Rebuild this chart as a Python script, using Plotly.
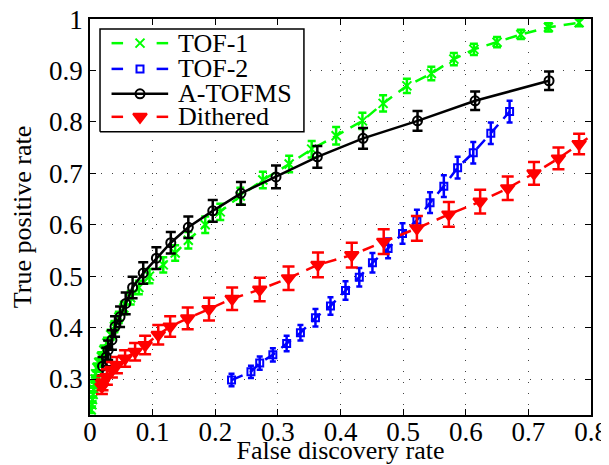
import plotly.graph_objects as go

# ---- data ----
tof1_x = [0.002, 0.003, 0.004, 0.005, 0.006, 0.007, 0.008, 0.009, 0.011, 0.014,
          0.018, 0.022, 0.027, 0.033, 0.039, 0.046, 0.054, 0.065, 0.078, 0.095,
          0.117, 0.136, 0.157, 0.184, 0.208, 0.240, 0.276, 0.318, 0.354, 0.393,
          0.435, 0.468, 0.506, 0.545, 0.581, 0.613, 0.650, 0.688, 0.732, 0.781]
tof1_y = [0.240, 0.250, 0.260, 0.270, 0.280, 0.290, 0.300, 0.310, 0.322, 0.332,
          0.343, 0.356, 0.370, 0.386, 0.402, 0.420, 0.438, 0.458, 0.478, 0.500,
          0.522, 0.545, 0.570, 0.600, 0.625, 0.656, 0.687, 0.718, 0.747, 0.773,
          0.802, 0.836, 0.870, 0.894, 0.922, 0.941, 0.955, 0.970, 0.984, 0.993]
tof1_err = [0.006, 0.006, 0.006, 0.006, 0.006, 0.007, 0.007, 0.007, 0.008, 0.008,
            0.009, 0.009, 0.010, 0.010, 0.011, 0.011, 0.012, 0.013, 0.013, 0.014,
            0.015, 0.015, 0.016, 0.016, 0.016, 0.016, 0.016, 0.016, 0.016, 0.017,
            0.016, 0.016, 0.014, 0.013, 0.012, 0.011, 0.010, 0.009, 0.008, 0.007]

tof2_x = [0.226, 0.257, 0.271, 0.292, 0.314, 0.336, 0.360, 0.384, 0.408, 0.430,
          0.451, 0.476, 0.499, 0.522, 0.543, 0.565, 0.587, 0.612, 0.640, 0.670]
tof2_y = [0.298, 0.314, 0.331, 0.347, 0.369, 0.390, 0.419, 0.442, 0.472, 0.498,
          0.526, 0.554, 0.583, 0.609, 0.643, 0.675, 0.711, 0.740, 0.778, 0.820]
tof2_err = [0.012, 0.012, 0.013, 0.013, 0.015, 0.015, 0.017, 0.017, 0.018, 0.018,
            0.019, 0.019, 0.020, 0.020, 0.020, 0.021, 0.021, 0.021, 0.021, 0.021]

atof_x = [0.020, 0.026, 0.029, 0.035, 0.040, 0.048, 0.057, 0.068, 0.085, 0.106,
          0.129, 0.157, 0.196, 0.241, 0.297, 0.363, 0.436, 0.523, 0.615, 0.733]
atof_y = [0.325, 0.343, 0.356, 0.376, 0.402, 0.421, 0.447, 0.478, 0.506, 0.535,
          0.565, 0.595, 0.627, 0.661, 0.693, 0.732, 0.768, 0.802, 0.841, 0.880]
atof_err = [0.018, 0.018, 0.019, 0.019, 0.020, 0.020, 0.021, 0.021, 0.021, 0.021,
            0.021, 0.021, 0.021, 0.022, 0.022, 0.021, 0.020, 0.019, 0.018, 0.018]

dith_x = [0.019, 0.020, 0.027, 0.035, 0.043, 0.056, 0.072, 0.088, 0.109, 0.128,
          0.156, 0.190, 0.227, 0.271, 0.317, 0.364, 0.418, 0.469, 0.522, 0.573,
          0.623, 0.667, 0.709, 0.748, 0.781, 0.830]
dith_y = [0.285, 0.292, 0.304, 0.318, 0.327, 0.340, 0.353, 0.366, 0.386, 0.402,
          0.418, 0.436, 0.456, 0.474, 0.496, 0.522, 0.541, 0.567, 0.593, 0.620,
          0.645, 0.671, 0.700, 0.729, 0.757, 0.798]
dith_err = [0.014, 0.014, 0.015, 0.015, 0.016, 0.016, 0.017, 0.018, 0.019, 0.020,
            0.021, 0.022, 0.022, 0.023, 0.023, 0.024, 0.024, 0.024, 0.024, 0.024,
            0.023, 0.023, 0.022, 0.021, 0.020, 0.020]

series_names = ["TOF-1", "TOF-2", "A-TOFMS", "Dithered"]

x_ticks = [0, 0.1, 0.2, 0.3, 0.4, 0.5, 0.6, 0.7, 0.8]
x_tick_labels = ["0", "0.1", "0.2", "0.3", "0.4", "0.5", "0.6", "0.7", "0.8"]
y_ticks = [0.3, 0.4, 0.5, 0.6, 0.7, 0.8, 0.9, 1.0]
y_tick_labels = ["0.3", "0.4", "0.5", "0.6", "0.7", "0.8", "0.9", "1"]

FONT = "Liberation Serif"

styles = [
    dict(color="#00ff00", symbol="x-thin-open", size=9, dash="12px,8px", cap=4),
    dict(color="#0000ff", symbol="square-open", size=7, dash="12px,8px", cap=3),
    dict(color="#000000", symbol="circle-open", size=9, dash="solid", cap=5),
    dict(color="#ff0000", symbol="triangle-down", size=12, dash="12px,8px", cap=6),
]
data = [(tof1_x, tof1_y, tof1_err), (tof2_x, tof2_y, tof2_err),
        (atof_x, atof_y, atof_err), (dith_x, dith_y, dith_err)]

fig = go.Figure()
for name, (xs, ys, es), st in zip(series_names, data, styles):
    fig.add_trace(go.Scatter(
        x=xs, y=ys, name=name, mode="lines+markers", showlegend=False,
        line=dict(color=st["color"], width=2.5, dash=st["dash"]),
        marker=dict(symbol=st["symbol"], size=st["size"], color=st["color"],
                    line=dict(color=st["color"], width=2)),
        error_y=dict(type="data", array=es, visible=True,
                     color=st["color"], thickness=2.5, width=st["cap"]),
    ))

# ---- legend drawn on an overlay axis (paper-like 0..1 coordinates) ----
box_x0, box_x1, box_y0, box_y1 = 0.02, 0.427, 0.715, 0.975
fig.add_trace(go.Scatter(
    x=[box_x0, box_x1, box_x1, box_x0, box_x0],
    y=[box_y0, box_y0, box_y1, box_y1, box_y0],
    mode="lines", fill="toself", fillcolor="white",
    line=dict(color="black", width=1.5), xaxis="x2", yaxis="y2",
    showlegend=False, hoverinfo="skip"))
row_y = [0.939, 0.874, 0.811, 0.753]
seg_a, seg_b, mark_x, txt_x = (0.043, 0.066), (0.133, 0.156), 0.0998, 0.172
for name, st, yy in zip(series_names, styles, row_y):
    if st["dash"] == "solid":
        fig.add_trace(go.Scatter(
            x=[seg_a[0], seg_b[1]], y=[yy, yy], mode="lines",
            line=dict(color=st["color"], width=2.5), xaxis="x2", yaxis="y2",
            showlegend=False, hoverinfo="skip"))
    else:
        for seg in (seg_a, seg_b):
            fig.add_trace(go.Scatter(
                x=list(seg), y=[yy, yy], mode="lines",
                line=dict(color=st["color"], width=2.5), xaxis="x2", yaxis="y2",
                showlegend=False, hoverinfo="skip"))
    fig.add_trace(go.Scatter(
        x=[mark_x], y=[yy], mode="markers",
        marker=dict(symbol=st["symbol"], size=st["size"], color=st["color"],
                    line=dict(color=st["color"], width=2)),
        xaxis="x2", yaxis="y2", showlegend=False, hoverinfo="skip"))
    fig.add_annotation(x=txt_x, y=yy, xref="x2", yref="y2", text=name,
                       showarrow=False, xanchor="left", yanchor="middle",
                       font=dict(family=FONT, size=26, color="black"))

axis_common = dict(
    showline=True, linecolor="black", linewidth=1.5, mirror="allticks",
    ticks="inside", ticklen=6, tickcolor="black", tickwidth=1,
    showgrid=True, gridcolor="#444444", gridwidth=1, griddash="1px,10px",
    zeroline=False, tickfont=dict(family=FONT, size=27, color="black"),
    ticklabeloverflow="allow",
)

fig.update_xaxes(range=[0, 0.8], tickvals=x_ticks, ticktext=x_tick_labels,
                 ticklabelstandoff=-8,
                 title=dict(text="False discovery rate",
                            font=dict(family=FONT, size=26, color="black"),
                            standoff=4),
                 **axis_common)
fig.update_yaxes(range=[0.23, 1.0001], tickvals=y_ticks, ticktext=y_tick_labels,
                 title=dict(text="True positive rate",
                            font=dict(family=FONT, size=26, color="black"),
                            standoff=18),
                 **axis_common)

# the page body adds an 8px offset, so the figure is 8px smaller than the window
fig.update_layout(
    width=601, height=457,
    margin=dict(l=82, r=18, t=11, b=50, autoexpand=False),
    paper_bgcolor="white", plot_bgcolor="white",
    font=dict(family=FONT, color="black"),
    showlegend=False,
    xaxis2=dict(overlaying="x", range=[0, 1], visible=False, fixedrange=True),
    yaxis2=dict(overlaying="y", range=[0, 1], visible=False, fixedrange=True),
)

fig.write_html("out.html")
